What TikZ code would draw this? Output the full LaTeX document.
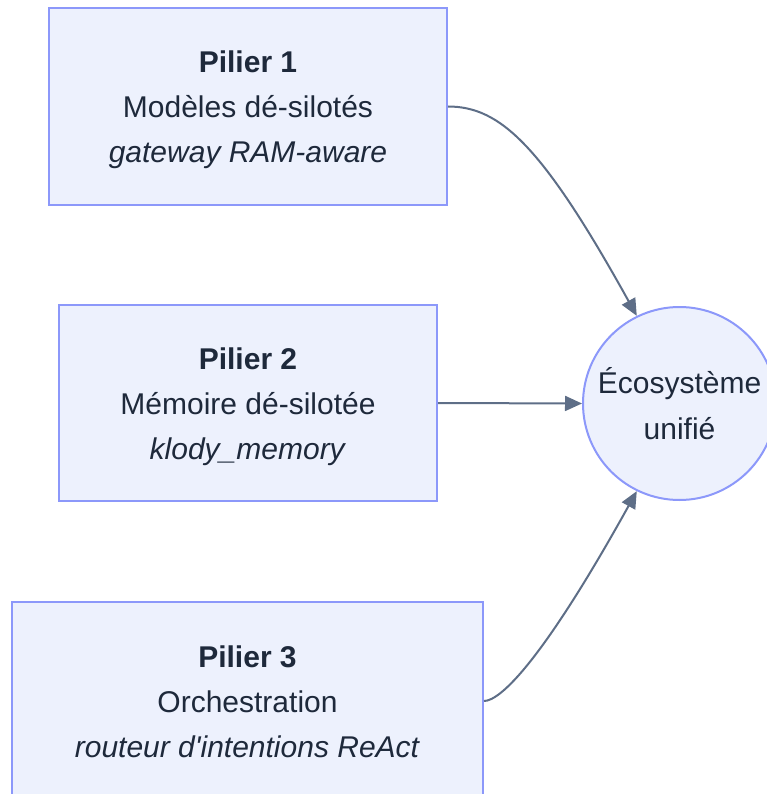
\documentclass[tikz,border=0pt]{standalone}
\usepackage{fontspec}
\setmainfont{Liberation Sans}
\usetikzlibrary{arrows.meta}
\definecolor{boxfill}{RGB}{237,241,253}
\definecolor{boxdraw}{RGB}{140,152,250}
\definecolor{txt}{RGB}{30,41,59}
\definecolor{edge}{RGB}{94,110,135}
\tikzset{
  pillar/.style={draw=boxdraw, fill=boxfill, line width=2pt, rectangle, align=center, text=txt,
    font=\fontsize{30}{45}\selectfont, inner sep=0pt, text height=112pt, text depth=0pt},
  hub/.style={draw=boxdraw, fill=boxfill, line width=2pt, circle, align=center, text=txt,
    font=\fontsize{30}{46}\selectfont, minimum size=193pt, inner sep=0pt},
  link/.style={draw=edge, line width=2pt, -{Triangle[length=17pt,width=15pt]}}
}
\begin{document}
\begin{tikzpicture}[x=1pt,y=-1pt]
\useasboundingbox (0,0) rectangle (767,794);
\node[pillar, minimum width=398pt, minimum height=197pt] (p1) at (248,106.5)
  {\textbf{Pilier 1}\\Modèles dé-silotés\\\textit{gateway RAM-aware}};
\node[pillar, minimum width=378pt, minimum height=196pt] (p2) at (248,403)
  {\textbf{Pilier 2}\\Mémoire dé-silotée\\\textit{klody\_memory}};
\node[pillar, minimum width=471pt, minimum height=198pt] (p3) at (247.5,701)
  {\textbf{Pilier 3}\\Orchestration\\\textit{routeur d\textquotesingle intentions ReAct}};
\node[hub] (c) at (679.5,403.5) {Écosystème\\unifié};
\draw[link] (p1.east) .. controls (500,106.5) and (542,145) .. (c.116);
\draw[link] (p2.east) -- (c.west);
\draw[link] (p3.east) .. controls (500,701) and (542,662) .. (c.244);
\end{tikzpicture}
\end{document}
